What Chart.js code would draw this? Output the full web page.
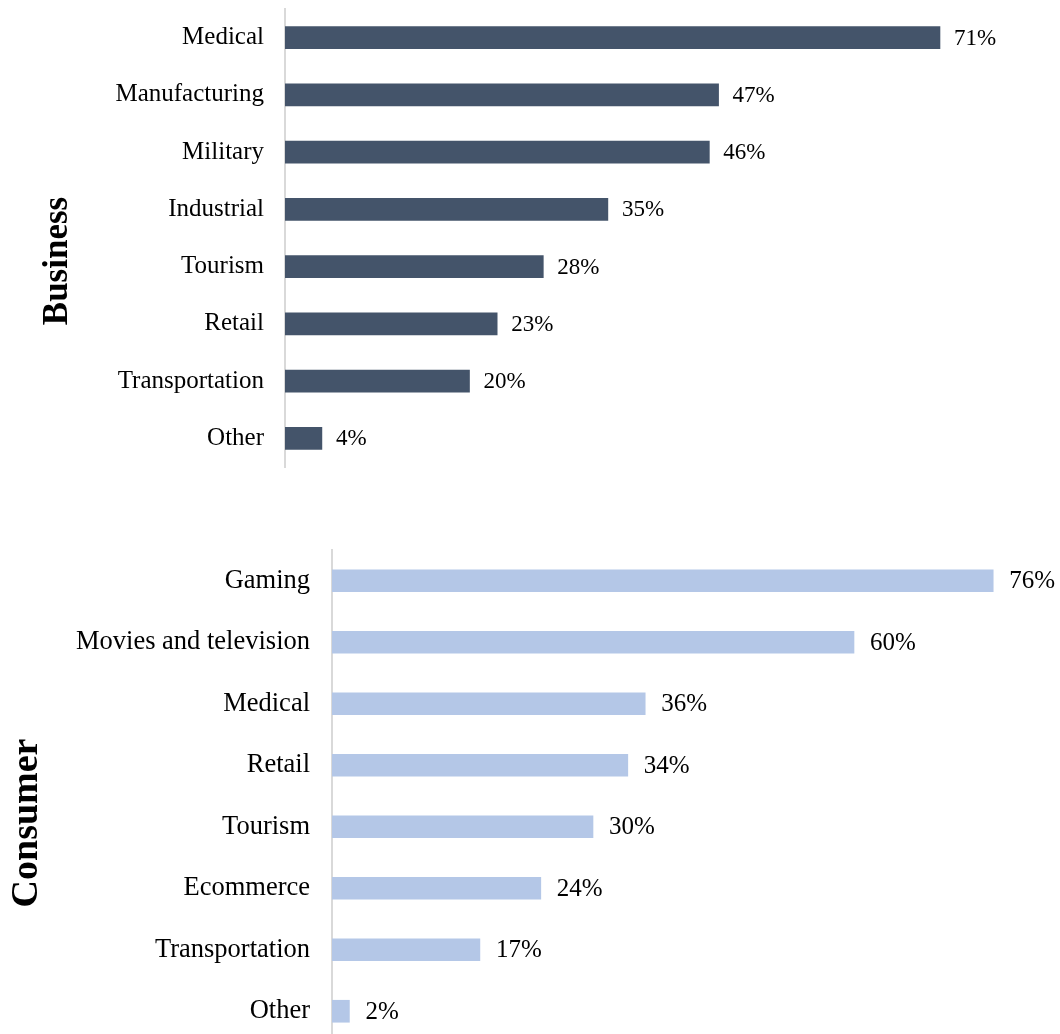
<!DOCTYPE html>
<html lang="en">
  <head>
    <meta charset="UTF-8" />
    <title>Business and consumer uses</title>
    <style>
      html, body { margin: 0; padding: 0; background: #fff; overflow: hidden; }
      body { width: 1060px; height: 1034px; position: relative; }
      .chart-box { position: absolute; left: 0; width: 1060px; }
      #box-business { top: 0; height: 480px; }
      #box-consumer { top: 530px; height: 520px; }
    </style>
  </head>
  <body>
    <div class="chart-box" id="box-business"><canvas id="businessCanvas"></canvas></div>
    <div class="chart-box" id="box-consumer"><canvas id="consumerCanvas"></canvas></div>

    <script src="https://cdn.jsdelivr.net/npm/chart.js@4.4.1/dist/chart.umd.min.js"></script>
    <script>
        // data
        let businessLabels = ['Medical', 'Manufacturing', 'Military', 'Industrial', 'Tourism', 'Retail', 'Transportation', 'Other'];
        let businessValues = [71, 47, 46, 35, 28, 23, 20, 4];

        let consumerLabels = ['Gaming', 'Movies and television', 'Medical', 'Retail', 'Tourism', 'Ecommerce', 'Transportation', 'Other'];
        let consumerValues = [76, 60, 36, 34, 30, 24, 17, 2];

        const serif = "'Liberation Serif', 'Times New Roman', serif";

        // writes "NN%" next to every bar
        const valueLabels = {
            id: 'valueLabels',
            afterDatasetsDraw(chart, args, opts) {
                const ctx = chart.ctx;
                const meta = chart.getDatasetMeta(0);
                ctx.save();
                ctx.font = opts.size + 'px ' + serif;
                ctx.fillStyle = '#000';
                ctx.textBaseline = 'middle';
                ctx.textAlign = 'left';
                meta.data.forEach(function (bar, i) {
                    ctx.fillText(chart.data.datasets[0].data[i] + '%', bar.x + opts.gap, bar.y + 1);
                });
                ctx.restore();
            }
        };

        // big rotated group name on the left
        const sideTitle = {
            id: 'sideTitle',
            afterDraw(chart, args, opts) {
                const ctx = chart.ctx;
                ctx.save();
                ctx.translate(opts.x, opts.y);
                ctx.rotate(-Math.PI / 2);
                ctx.font = 'bold ' + opts.size + 'px ' + serif;
                ctx.fillStyle = '#000';
                ctx.textAlign = 'center';
                ctx.textBaseline = 'middle';
                ctx.fillText(opts.text, 0, 0);
                ctx.restore();
            }
        };

        function makeChart(id, labels, values, color, cfg) {
            let ctx = document.getElementById(id).getContext('2d');
            return new Chart(ctx, {
                type: 'bar',
                data: {
                    labels: labels,
                    datasets: [{
                        data: values,
                        backgroundColor: color,
                        borderWidth: 0,
                        barThickness: 22
                    }]
                },
                options: {
                    indexAxis: 'y',
                    responsive: true,
                    maintainAspectRatio: false,
                    animation: false,
                    layout: { padding: cfg.padding },
                    plugins: {
                        legend: { display: false },
                        tooltip: { enabled: false },
                        valueLabels: { size: cfg.valueSize, gap: cfg.gap },
                        sideTitle: cfg.title
                    },
                    scales: {
                        x: { display: false, min: 0, max: 80 },
                        y: {
                            grid: { display: false, drawTicks: false },
                            border: { display: true, color: '#d9d9d9', width: 2 },
                            ticks: {
                                color: '#000',
                                padding: cfg.tickPad,
                                font: { family: serif, size: cfg.tickSize }
                            },
                            afterFit: function (scale) {
                                scale.width = cfg.axisX;
                                scale.paddingTop = 0;
                                scale.paddingBottom = 0;
                            }
                        }
                    }
                },
                plugins: [valueLabels, sideTitle]
            });
        }

        window.onload = function () {
            makeChart('businessCanvas', businessLabels, businessValues, '#44546a', {
                padding: { top: 9, bottom: 13, left: 0, right: 37 },
                axisX: 285, tickPad: 21, tickSize: 25, valueSize: 23, gap: 14,
                title: { text: 'Business', x: 58, y: 261, size: 35 }
            });
            makeChart('consumerCanvas', consumerLabels, consumerValues, '#b4c7e7', {
                padding: { top: 20, bottom: 8, left: 0, right: 32 },
                axisX: 332, tickPad: 22, tickSize: 26.5, valueSize: 25, gap: 16,
                title: { text: 'Consumer', x: 27, y: 293, size: 38 }
            });
        };
    </script>
  </body>
</html>
